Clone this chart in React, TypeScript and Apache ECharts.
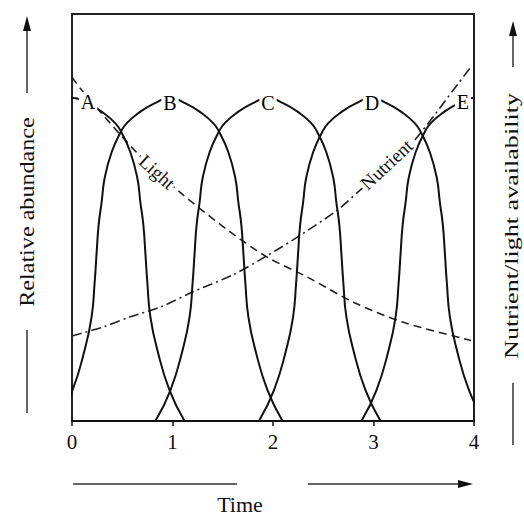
import React, { useEffect, useRef } from "react";
import * as echarts from "echarts";

// Species bell profile (offset in time units from the peak, relative abundance)
const bellOffsets = [-1.12, -0.97, -0.85, -0.78, -0.75, -0.73, -0.71, -0.68, -0.65, -0.58, -0.49, -0.43, -0.3, -0.15, 0, 0.15, 0.3, 0.43, 0.49, 0.58, 0.65, 0.68, 0.71, 0.73, 0.75, 0.78, 0.85, 0.97, 1.12];
const bellValues = [0, 7.6, 17.4, 25.6, 33.9, 41.3, 48.2, 53.8, 59.7, 66.1, 71.0, 73.2, 75.9, 78.1, 79.4, 78.1, 75.9, 73.2, 71.0, 66.1, 59.7, 53.8, 48.2, 41.3, 33.9, 25.6, 17.4, 7.6, 0];
const speciesNames = ["A", "B", "C", "D", "E"];
const speciesCenters = [0, 0.975, 1.95, 2.98, 4.0];
const speciesLabelT = [0.16, 0.975, 1.95, 2.985, 3.89];
const speciesLabelV = [78.4, 78.1, 78.1, 78.1, 78.4];

// Light availability (dashed)
const lightT = [0, 0.08, 0.65, 1.07, 1.55, 1.94, 2.34, 2.8, 3.29, 3.97];
const lightV = [84.5, 81.8, 65.8, 56.3, 46.9, 40.3, 35.4, 29.2, 24.3, 19.8];

// Nutrient availability (dash-dot)
const nutrientT = [0, 0.31, 0.58, 0.88, 1.2, 1.6, 1.87, 2.2, 2.64, 2.87, 3.15, 3.41, 3.84, 3.97];
const nutrientV = [20.9, 23.1, 25.6, 28, 31.7, 35.9, 39.6, 44.5, 51.8, 56.8, 62.5, 69, 82.8, 87];

const xTicks = ["0", "1", "2", "3", "4"];

const SERIF = '"Liberation Serif", "DejaVu Serif", serif';

export default function App() {
  const ref = useRef<HTMLDivElement>(null);

  useEffect(() => {
    if (!ref.current) return;
    const chart = echarts.init(ref.current, undefined, { renderer: "svg" });

    const speciesSeries = speciesCenters.map((c, i) => ({
      type: "line",
      name: speciesNames[i],
      data: bellOffsets.map((o, j) => [c + o, bellValues[j]]),
      smooth: 0.5,
      symbol: "none",
      clip: true,
      lineStyle: { color: "#111", width: 2 },
      z: 3,
    }));

    const option: any = {
      animation: false,
      backgroundColor: "#fff",
      grid: {
        left: 72,
        right: 50,
        top: 14,
        bottom: 95,
        show: true,
        borderColor: "#222",
        borderWidth: 2,
        backgroundColor: "transparent",
      },
      xAxis: {
        type: "value",
        min: 0,
        max: 4,
        interval: 1,
        axisLine: { show: true, lineStyle: { color: "#111", width: 2 } },
        axisTick: { show: true, length: 5, lineStyle: { color: "#111", width: 1.5 } },
        axisLabel: {
          color: "#111",
          fontFamily: SERIF,
          fontSize: 21,
          margin: 10,
          formatter: (v: number) => xTicks[Math.round(v)] ?? "",
        },
        splitLine: { show: false },
      },
      yAxis: {
        type: "value",
        min: 0,
        max: 100,
        show: false,
        splitLine: { show: false },
      },
      series: [
        ...speciesSeries,
        {
          type: "line",
          name: "Light",
          data: lightT.map((t, i) => [t, lightV[i]]),
          smooth: 0.3,
          symbol: "none",
          lineStyle: { color: "#222", width: 1.6, type: [8, 5] },
          z: 2,
        },
        {
          type: "line",
          name: "Nutrient",
          data: nutrientT.map((t, i) => [t, nutrientV[i]]),
          smooth: 0.3,
          symbol: "none",
          lineStyle: { color: "#222", width: 1.6, type: [10, 4, 2, 4] },
          z: 2,
        },
        {
          type: "scatter",
          symbolSize: 0,
          silent: true,
          z: 6,
          itemStyle: { opacity: 1 },
          data: speciesNames.map((n, i) => ({ name: n, value: [speciesLabelT[i], speciesLabelV[i]] })),
          label: {
            show: true,
            position: "inside",
            formatter: "{b}",
            color: "#000",
            fontFamily: SERIF,
            fontSize: 20,
            backgroundColor: "#fff",
            padding: [0, 2],
          },
        },
        {
          type: "scatter",
          symbolSize: 0,
          silent: true,
          z: 6,
          itemStyle: { opacity: 1 },
          data: [
            { name: "Light", value: [0.846, 61.2], label: { rotate: -42 } },
            { name: "Nutrient", value: [3.13, 63.0], label: { rotate: 43 } },
          ],
          label: {
            show: true,
            position: "inside",
            formatter: "{b}",
            color: "#111",
            fontFamily: SERIF,
            fontSize: 19,
            lineHeight: 16,
            backgroundColor: "#fff",
            padding: [0, 2],
          },
        },
      ],
      graphic: [
        // left axis title
        {
          type: "text",
          x: 27,
          y: 212,
          rotation: Math.PI / 2,
          scaleX: 1.15,
          style: { text: "Relative abundance", fontFamily: SERIF, fontSize: 21, fill: "#111", align: "center", verticalAlign: "middle" },
        },
        { type: "line", shape: { x1: 27, y1: 93, x2: 27, y2: 26 }, style: { stroke: "#333", lineWidth: 1.5 } },
        { type: "polygon", shape: { points: [[27, 16], [23, 31], [31, 31]] }, style: { fill: "#111" } },
        { type: "line", shape: { x1: 27, y1: 330, x2: 27, y2: 413 }, style: { stroke: "#333", lineWidth: 1.5 } },
        // right axis title
        {
          type: "text",
          x: 512,
          y: 226,
          rotation: Math.PI / 2,
          scaleX: 1.45,
          style: { text: "Nutrient/light availability", fontFamily: SERIF, fontSize: 18, fill: "#111", align: "center", verticalAlign: "middle" },
        },
        { type: "line", shape: { x1: 513, y1: 67, x2: 513, y2: 32 }, style: { stroke: "#333", lineWidth: 1.5 } },
        { type: "polygon", shape: { points: [[513, 21], [509, 36], [517, 36]] }, style: { fill: "#111" } },
        { type: "line", shape: { x1: 513, y1: 383, x2: 513, y2: 445 }, style: { stroke: "#333", lineWidth: 1.5 } },
        // bottom axis title
        {
          type: "text",
          x: 240,
          y: 504,
          style: { text: "Time", fontFamily: SERIF, fontSize: 22, fill: "#111", align: "center", verticalAlign: "middle" },
        },
        { type: "line", shape: { x1: 73, y1: 484, x2: 237, y2: 484 }, style: { stroke: "#333", lineWidth: 1.5 } },
        { type: "line", shape: { x1: 308, y1: 484, x2: 462, y2: 484 }, style: { stroke: "#333", lineWidth: 1.5 } },
        { type: "polygon", shape: { points: [[473, 484], [458, 480], [458, 488]] }, style: { fill: "#111" } },
      ],
    };

    chart.setOption(option);
    return () => chart.dispose();
  }, []);

  return (
    <div
      ref={ref}
      style={{ position: "absolute", left: 0, top: 0, width: 524, height: 516, background: "#fff" }}
    />
  );
}
